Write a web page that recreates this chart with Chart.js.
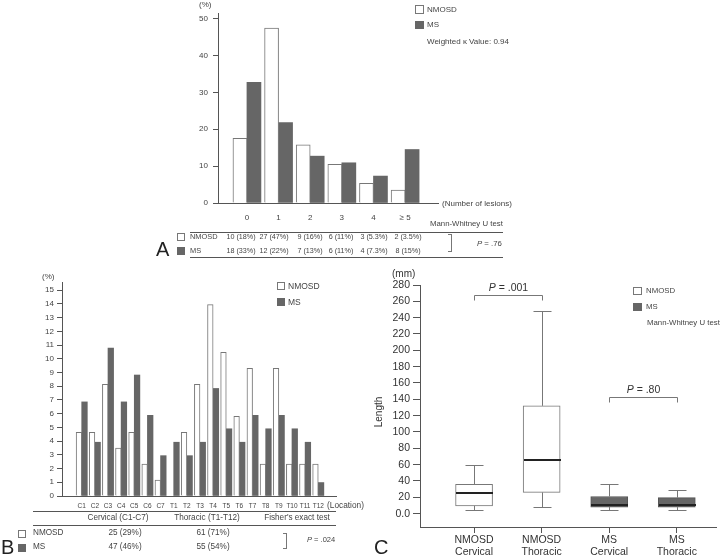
<!DOCTYPE html>
<html>
<head>
<meta charset="utf-8">
<script src="https://cdn.jsdelivr.net/npm/chart.js"></script>
<style>
  body { margin: 0; background: #fff; }
  #wrap { position: relative; width: 720px; height: 555px; overflow: hidden;
          font-family: 'Liberation Sans', Arial, sans-serif; color: #444; }
  canvas { position: absolute; left: 0; top: 0; }
  .t { position: absolute; white-space: nowrap; line-height: 1; }
  .box { position: absolute; box-sizing: border-box; border: 1px solid #777; background: #fff; }
  .box.ms { background: #666; border-color: #666; }
  .hl { position: absolute; height: 1px; background: #555; }
  .br { position: absolute; box-sizing: border-box; border: 1px solid #777; border-left: none; width: 4px; }
</style>
</head>
<body>
<div id="wrap">
  <canvas id="chartA" width="720" height="555"></canvas>
  <canvas id="chartB" width="720" height="555"></canvas>
  <canvas id="chartC" width="720" height="555"></canvas>
</div>
<script>
// A - number of lesions (%)
const lesionCats = ['0', '1', '2', '3', '4', '≥ 5'];
const lesionNmosd = [17.5, 47.4, 15.8, 10.5, 5.3, 3.5];
const lesionMs = [32.7, 21.8, 12.7, 10.9, 7.3, 14.5];
const lesionNmosdCells = ['10 (18%)', '27 (47%)', '9 (16%)', '6 (11%)', '3 (5.3%)', '2 (3.5%)'];
const lesionMsCells = ['18 (33%)', '12 (22%)', '7 (13%)', '6 (11%)', '4 (7.3%)', '8 (15%)'];

// B - location (%)
const levelCats = ['C1', 'C2', 'C3', 'C4', 'C5', 'C6', 'C7', 'T1', 'T2', 'T3', 'T4', 'T5', 'T6',
  'T7', 'T8', 'T9', 'T10', 'T11', 'T12'];
const levelNmosd = [4.65, 4.65, 8.14, 3.49, 4.65, 2.33, 1.16, 0, 4.65, 8.14, 13.95, 10.47, 5.81,
  9.3, 2.33, 9.3, 2.33, 2.33, 2.33];
const levelMs = [6.86, 3.92, 10.78, 6.86, 8.82, 5.88, 2.94, 3.92, 2.94, 3.92, 7.84, 4.9, 3.92,
  5.88, 4.9, 5.88, 4.9, 3.92, 0.98];

// C - lesion length (mm)
const lengthCats = [['NMOSD', 'Cervical'], ['NMOSD', 'Thoracic'], ['MS', 'Cervical'], ['MS', 'Thoracic']];
const lengthMin = [4, 7.5, 5, 5];
const lengthQ1 = [9.5, 26, 8, 8];
const lengthMedian = [25, 65.5, 10.5, 10];
const lengthQ3 = [36, 132, 21, 19.5];
const lengthMax = [60, 248, 36, 29.5];

const FONT = "'Liberation Sans', Arial, sans-serif";
Chart.defaults.font.family = FONT;
Chart.defaults.color = '#444';
Chart.defaults.animation = false;

const wrap = document.getElementById('wrap');
function put(html, x, y, size, align, color) {
  const d = document.createElement('div');
  d.className = 't';
  d.innerHTML = html;
  d.style.fontSize = size + 'px';
  d.style.top = (y - size / 2) + 'px';
  if (align === 'c') { d.style.left = x + 'px'; d.style.transform = 'translateX(-50%)'; }
  else if (align === 'r') { d.style.right = (720 - x) + 'px'; }
  else { d.style.left = x + 'px'; }
  if (color) d.style.color = color;
  wrap.appendChild(d);
  return d;
}
function box(x, y, w, h, ms) {
  const d = document.createElement('div');
  d.className = ms ? 'box ms' : 'box';
  Object.assign(d.style, { left: x + 'px', top: y + 'px', width: w + 'px', height: h + 'px' });
  wrap.appendChild(d);
}
function hline(x1, x2, y) {
  const d = document.createElement('div');
  d.className = 'hl';
  Object.assign(d.style, { left: x1 + 'px', top: y + 'px', width: (x2 - x1) + 'px' });
  wrap.appendChild(d);
}
function bracket(x, y1, y2) {
  const d = document.createElement('div');
  d.className = 'br';
  Object.assign(d.style, { left: (x - 4) + 'px', top: y1 + 'px', height: (y2 - y1) + 'px' });
  wrap.appendChild(d);
}
const fixW = w => s => { s.width = w; };
const fixH = h => s => { s.height = h; };
const points = arr => arr.map((v, i) => ({ x: i, y: v }));

// ---------- A ----------
new Chart(document.getElementById('chartA'), {
  type: 'bar',
  data: {
    datasets: [{
      label: 'NMOSD',
      data: points(lesionNmosd),
      backgroundColor: '#fff', borderColor: '#777', borderWidth: 1, barThickness: 14
    }, {
      label: 'MS',
      data: points(lesionMs),
      backgroundColor: '#666', borderWidth: 0, barThickness: 14
    }]
  },
  options: {
    responsive: false,
    layout: { padding: { top: 13, right: 720 - 438, left: 0, bottom: 0 } },
    plugins: { legend: { display: false }, tooltip: { enabled: false } },
    scales: {
      x: {
        type: 'linear', min: -0.915, max: 6.04, offset: false,
        afterFit: fixH(555 - 203),
        grid: { display: false, drawTicks: false },
        border: { color: '#555' },
        ticks: { stepSize: 1, includeBounds: false, autoSkip: false, maxRotation: 0, padding: 10,
          font: { size: 8 }, callback: v => lesionCats[v] ?? '' }
      },
      y: {
        min: 0, max: 51.5,
        afterFit: fixW(218),
        grid: { drawOnChartArea: false, tickLength: 5, color: '#555' },
        border: { color: '#555' },
        ticks: { stepSize: 10, includeBounds: false, padding: 5, font: { size: 8 } }
      }
    }
  }
});

// ---------- B ----------
new Chart(document.getElementById('chartB'), {
  type: 'bar',
  data: {
    datasets: [{
      label: 'NMOSD',
      data: points(levelNmosd),
      backgroundColor: '#fff', borderColor: '#777', borderWidth: 1, barThickness: 5.6
    }, {
      label: 'MS',
      data: points(levelMs),
      backgroundColor: '#666', borderWidth: 0, barThickness: 5.6
    }]
  },
  options: {
    responsive: false,
    layout: { padding: { top: 282, right: 720 - 336, left: 0, bottom: 0 } },
    plugins: { legend: { display: false }, tooltip: { enabled: false } },
    scales: {
      x: {
        type: 'linear', min: -1.5, max: 19.35, offset: false,
        afterFit: fixH(555 - 496),
        grid: { display: false, drawTicks: false },
        border: { color: '#555' },
        ticks: { stepSize: 1, includeBounds: false, autoSkip: false, maxRotation: 0, padding: 6,
          font: { size: 6.5 }, callback: v => levelCats[v] ?? '' }
      },
      y: {
        min: 0, max: 15.6,
        afterFit: fixW(62),
        grid: { drawOnChartArea: false, tickLength: 5, color: '#555' },
        border: { color: '#555' },
        ticks: { stepSize: 1, includeBounds: false, padding: 3, font: { size: 8 } }
      }
    }
  }
});

// ---------- C ----------
const whiskers = {
  id: 'whiskers',
  afterDatasetsDraw(chart) {
    const { ctx, scales: { x, y } } = chart;
    const bars = chart.getDatasetMeta(0).data;
    const seg = (x1, y1, x2, y2) => { ctx.beginPath(); ctx.moveTo(x1, y1); ctx.lineTo(x2, y2); ctx.stroke(); };
    ctx.save();
    lengthMedian.forEach((m, i) => {
      const cx = Math.round(x.getPixelForValue(i)) + 0.5;
      const hw = bars[i].width / 2;
      const yMax = Math.round(y.getPixelForValue(lengthMax[i])) + 0.5;
      const yMin = Math.round(y.getPixelForValue(lengthMin[i])) + 0.5;
      ctx.strokeStyle = '#777';
      ctx.lineWidth = 1;
      seg(cx, y.getPixelForValue(lengthQ3[i]), cx, yMax);
      seg(cx, y.getPixelForValue(lengthQ1[i]), cx, yMin);
      seg(cx - 9, yMax, cx + 9, yMax);
      seg(cx - 9, yMin, cx + 9, yMin);
      ctx.strokeStyle = '#222';
      ctx.lineWidth = 2;
      const ym = Math.round(y.getPixelForValue(m));
      seg(cx - hw, ym, cx + hw, ym);
    });
    // significance brackets
    ctx.strokeStyle = '#777';
    ctx.lineWidth = 1;
    ctx.fillStyle = '#333';
    ctx.textAlign = 'left';
    ctx.textBaseline = 'middle';
    [[0, 1, 268, '.001'], [2, 3, 143, '.80']].forEach(([a, b, v, p]) => {
      const x1 = Math.round(x.getPixelForValue(a)) + 0.5;
      const x2 = Math.round(x.getPixelForValue(b)) + 0.5;
      const yb = Math.round(y.getPixelForValue(v)) + 0.5;
      ctx.beginPath();
      ctx.moveTo(x1, yb + 5); ctx.lineTo(x1, yb); ctx.lineTo(x2, yb); ctx.lineTo(x2, yb + 5);
      ctx.stroke();
      ctx.font = 'italic 10.5px ' + FONT;
      const wP = ctx.measureText('P').width;
      ctx.font = '10.5px ' + FONT;
      const rest = ' = ' + p;
      const w = wP + ctx.measureText(rest).width;
      const left = (x1 + x2) / 2 - w / 2;
      ctx.font = 'italic 10.5px ' + FONT;
      ctx.fillText('P', left, yb - 7);
      ctx.font = '10.5px ' + FONT;
      ctx.fillText(rest, left + wP, yb - 7);
    });
    ctx.restore();
  }
};

new Chart(document.getElementById('chartC'), {
  type: 'bar',
  data: {
    datasets: [{
      label: 'Length',
      data: lengthQ1.map((q1, i) => ({ x: i, y: [q1, lengthQ3[i]] })),
      backgroundColor: ['#fff', '#fff', '#666', '#666'],
      borderColor: ['#777', '#777', '#555', '#555'],
      borderWidth: 1, borderSkipped: false, barThickness: 37
    }]
  },
  options: {
    responsive: false,
    layout: { padding: { top: 285, right: 720 - 716, left: 0, bottom: 0 } },
    plugins: { legend: { display: false }, tooltip: { enabled: false } },
    scales: {
      x: {
        type: 'linear', min: -0.8, max: 3.58, offset: false,
        afterFit: fixH(555 - 527),
        grid: { drawOnChartArea: false, offset: false, tickLength: 6, color: '#555' },
        border: { color: '#555' },
        ticks: { stepSize: 1, includeBounds: false, autoSkip: false, maxRotation: 0, padding: 1,
          font: { size: 10.5, lineHeight: 1.15 }, color: '#333', callback: v => lengthCats[v] ?? '' }
      },
      y: {
        min: -16.4, max: 280,
        afterFit: fixW(420),
        grid: { drawOnChartArea: false, tickLength: 7, color: '#555' },
        border: { color: '#555' },
        ticks: { stepSize: 20, includeBounds: false, padding: 3, font: { size: 10.5 }, color: '#333',
          callback: v => v === 0 ? '0.0' : v }
      }
    }
  },
  plugins: [whiskers]
});

// ---------- A: labels, legend, table ----------
put('(%)', 199, 5, 8);
box(415, 5, 9, 9, false); put('NMOSD', 427, 9.5, 8);
box(415, 21, 9, 8, true); put('MS', 427, 25, 8);
put('Weighted κ Value: 0.94', 427, 42, 8);
put('(Number of lesions)', 442, 204, 8);
put('Mann-Whitney U test', 430, 224, 7.8);
hline(190, 503, 232);
hline(190, 503, 257);
box(177, 233, 8, 8, false); put('NMOSD', 190, 237, 7.4);
box(177, 247, 8, 8, true); put('MS', 190, 251, 7.4);
const colA = [241, 274, 310, 341, 374, 408];
lesionNmosdCells.forEach((s, i) => put(s, colA[i], 237, 7.2, 'c'));
lesionMsCells.forEach((s, i) => put(s, colA[i], 251, 7.2, 'c'));
bracket(452, 234, 252);
put('<i>P</i> = .76', 477, 244, 7.8);
put('A', 156, 249, 20, 'l', '#222');

// ---------- B: labels, legend, table ----------
put('(%)', 42, 277, 8);
box(277, 282, 8, 8, false); put('NMOSD', 288, 286, 8.5);
box(277, 298, 8, 8, true); put('MS', 288, 302, 8.5);
put('(Location)', 327, 505, 8.3);
hline(33, 336, 511);
hline(33, 336, 525);
put('Cervical (C1-C7)', 118, 518.5, 8.2, 'c');
put('Thoracic (T1-T12)', 207, 518.5, 8.2, 'c');
put('Fisher\'s exact test', 297, 518.5, 8.2, 'c');
box(18, 530, 8, 8, false); put('NMOSD', 33, 533, 8.2);
box(18, 544, 8, 8, true); put('MS', 33, 547, 8.2);
put('25 (29%)', 125, 533, 8.2, 'c'); put('61 (71%)', 213, 533, 8.2, 'c');
put('47 (46%)', 125, 547, 8.2, 'c'); put('55 (54%)', 213, 547, 8.2, 'c');
bracket(287, 533, 549);
put('<i>P</i> = .024', 307, 540, 7.5);
put('B', 1, 547, 20, 'l', '#222');

// ---------- C: labels, legend ----------
put('(mm)', 392, 274, 10, 'l', '#333');
const len = put('Length', 379, 412, 10, 'c', '#333');
len.style.transform = 'translateX(-50%) rotate(-90deg)';
box(633, 287, 9, 8, false); put('NMOSD', 646, 291, 7.8);
box(633, 303, 9, 8, true); put('MS', 646, 306.5, 7.8);
put('Mann-Whitney U test', 647, 323, 7.8);
put('C', 374, 547, 20, 'l', '#222');
</script>
</body>
</html>
